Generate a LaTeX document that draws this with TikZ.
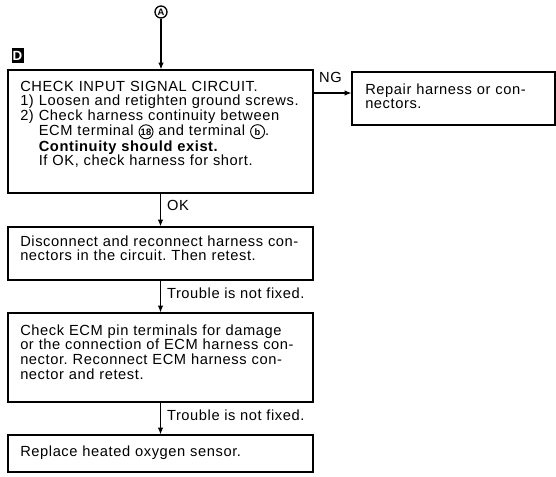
\documentclass[tikz,border=0pt]{standalone}
\usepackage{fontspec}
\setmainfont{Liberation Sans}[LetterSpace=4]
\usetikzlibrary{arrows.meta}
\frenchspacing
\newcommand\circtag[1]{\tikz[baseline=(ct.base), x=1cm, y=1cm]\node[draw, circle, line width=0.7pt,
  inner sep=0pt, minimum size=10.5pt, text width={}, align=center, anchor=base,
  font=\bfseries\fontsize{7}{7}\selectfont] (ct) {#1};}
\begin{document}
\begin{tikzpicture}[x=0.75pt,y=-0.75pt,
  box/.style={draw, line width=0.9pt, inner sep=0pt},
  txt/.style={anchor=base west, inner sep=0pt, align=left, text width=220pt, font=\fontsize{11}{11}\selectfont},
  arr/.style={line width=0.8pt, -{Latex[length=5pt,width=4pt]}},
  lbl/.style={inner sep=0pt, font=\fontsize{11}{11}\selectfont}]
\useasboundingbox (0,0) rectangle (556,476);

% marker nodes
\node[circle, draw, line width=1pt, inner sep=0pt, minimum size=9pt,
      font=\bfseries\fontsize{7}{7}\selectfont] (A) at (161,12) {A};
\node[fill=black, text=white, inner sep=0pt, minimum width=9pt, minimum height=11pt,
      font=\bfseries\fontsize{10}{10}\selectfont] (D) at (17.5,55.5) {D};

% boxes
\node[box, minimum width=228.75pt, minimum height=92.25pt] (b1) at (160.5,131.5) {};
\node[box, minimum width=152.25pt, minimum height=39.75pt] (b2) at (453.5,98.5) {};
\node[box, minimum width=228.75pt, minimum height=39.75pt] (b3) at (160.5,253.5) {};
\node[box, minimum width=228.75pt, minimum height=66.75pt] (b4) at (160.5,357.5) {};
\node[box, minimum width=228.75pt, minimum height=27.75pt] (b5) at (160.5,453.5) {};

% texts
\node[txt] (t1) at (20,91) {CHECK INPUT SIGNAL CIRCUIT.\\
1) Loosen and retighten ground screws.\\
2) Check harness continuity between\\
\phantom{2) }ECM terminal \circtag{18} and terminal \circtag{b}.\\
\phantom{2) }\textbf{Continuity should exist.}\\
\phantom{2) }If OK, check harness for short.};
\node[txt, text width=140pt] (t2) at (365,94) {Repair harness or con-\\nectors.};
\node[txt] (t3) at (20,246) {Disconnect and reconnect harness con-\\nectors in the circuit. Then retest.};
\node[txt] (t4) at (20,335) {Check ECM pin terminals for damage\\or the connection of ECM harness con-\\nector. Reconnect ECM harness con-\\nector and retest.};
\node[txt] (t5) at (20,456) {Replace heated oxygen sensor.};

% connectors
\coordinate (ngy) at (0,93);
\draw[arr] (A) -- (A |- b1.north);
\draw[arr] (b1.east |- ngy) -- node[lbl, pos=0, anchor=south west, xshift=3.75pt, yshift=7pt] {NG} (b2.west |- ngy);
\draw[arr] (b1) -- node[lbl, pos=0.35, anchor=west, xshift=4.5pt] {OK} (b3);
\draw[arr] (b3) -- node[lbl, pos=0.39, anchor=west, xshift=4.5pt] {Trouble is not fixed.} (b4);
\draw[arr] (b4) -- node[lbl, pos=0.39, anchor=west, xshift=4.5pt] {Trouble is not fixed.} (b5);
\end{tikzpicture}
\end{document}
